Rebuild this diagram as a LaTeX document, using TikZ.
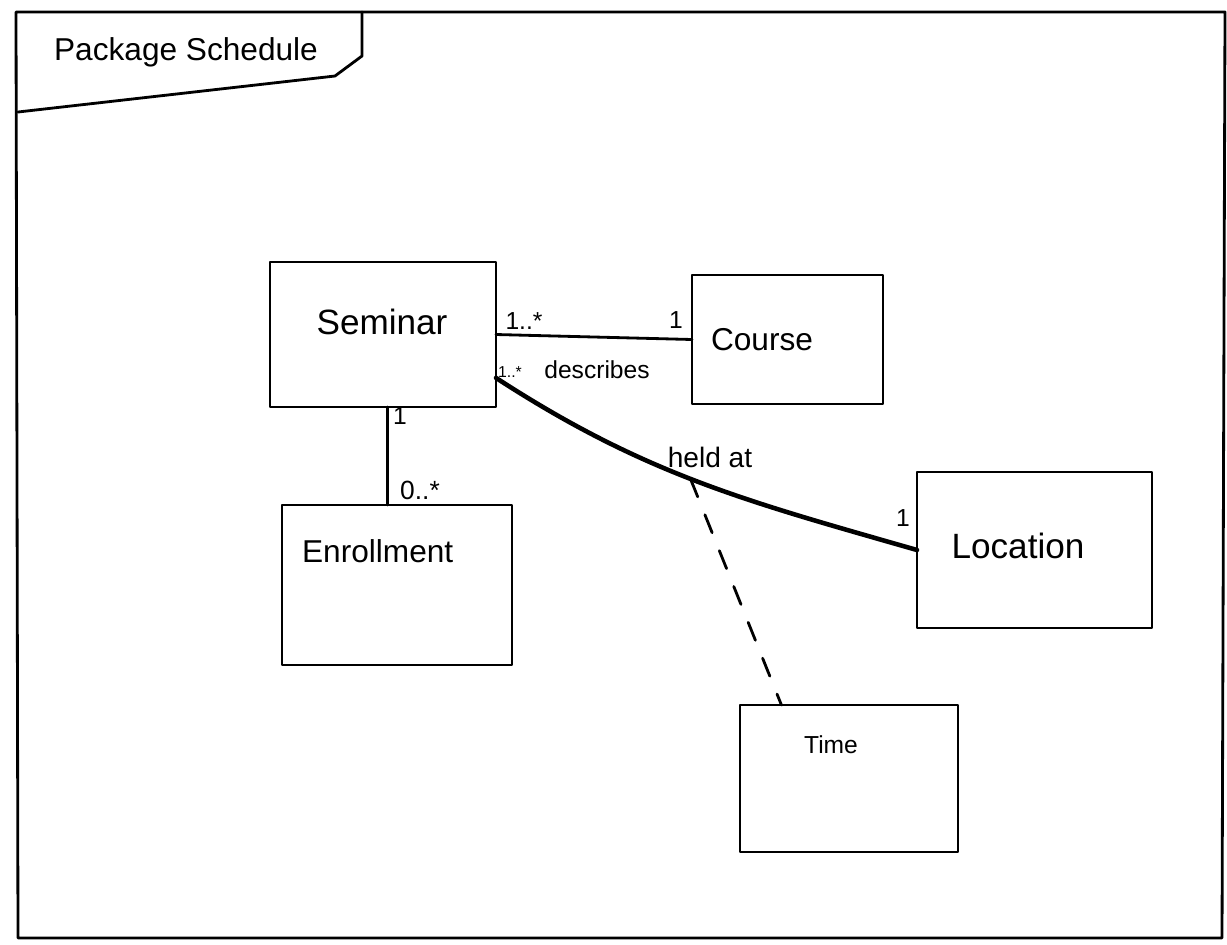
\documentclass[tikz,border=0pt]{standalone}
\usepackage{fontspec}
\setmainfont{Liberation Sans}
\usetikzlibrary{calc, positioning}

\tikzset{
    classbox/.style={draw=black, line width=1.4pt, fill=white, inner sep=0pt, outer sep=0pt},
    handlbl/.style={font=\fontsize{18}{20}\selectfont, inner sep=1pt},
    multlbl/.style={font=\fontsize{14}{16}\selectfont, inner sep=1pt}
}

\begin{document}
\begin{tikzpicture}[x=0.02cm, y=0.02cm, line cap=round, line join=round]
    \useasboundingbox (0,0) rectangle (1227,-944);
    % package frame and its tab
    \draw[line width=1.6pt] (16,-12) -- (1225,-12) -- (1222,-938) -- (18,-938) -- cycle;
    \draw[line width=1.6pt] (18,-112) -- (335,-76) -- (362,-56) -- (362,-12);
    \node[handlbl] (pkgname) at (186,-52) {Package Schedule};

    % classes
    \node[classbox, minimum width=4.52cm, minimum height=2.9cm] (seminar) at (383,-334.5) {};
    \node[classbox, minimum width=3.82cm, minimum height=2.58cm] (course) at (787.5,-339.5) {};
    \node[classbox, minimum width=4.6cm, minimum height=3.2cm] (enrollment) at (397,-585) {};
    \node[classbox, minimum width=4.7cm, minimum height=3.12cm] (location) at (1034.5,-550) {};
    \node[classbox, minimum width=4.36cm, minimum height=2.94cm] (timebox) at (849,-778.5) {};

    \node[handlbl, font=\fontsize{20}{22}\selectfont] (seminarlbl) at (382,-322) {Seminar};
    \node[handlbl] (courselbl) at (762,-340) {Course};
    \node[handlbl, anchor=west] (enrollmentlbl) at (300,-551) {Enrollment};
    \node[handlbl, font=\fontsize{20}{22}\selectfont] (locationlbl) at (1018,-546) {Location};
    \node[handlbl, font=\fontsize{14}{16}\selectfont] (timelbl) at (831,-745) {Time};

    % associations
    \draw[line width=1.6pt] (seminar.east) -- (course.west);
    \node[multlbl] (semcourse) at (524,-321) {1..*};
    \node[multlbl] (coursesem) at (676,-320) {1};
    \node[multlbl, font=\fontsize{9}{10}\selectfont] (semdesc) at (510,-372) {1..*};
    \node[multlbl] (describes) at (597,-370) {describes};

    \coordinate (semdown) at ($(seminar.south west)!0.52!(seminar.south east)$);
    \draw[line width=1.6pt] (semdown) -- (semdown |- enrollment.north);
    \node[multlbl] (semenroll) at (400,-416) {1};
    \node[multlbl, font=\fontsize{15}{17}\selectfont] (enrollsem) at (420,-490) {0..*};

    \draw[line width=2.6pt] (seminar.-21) to[out=-33, in=164]
        coordinate[pos=0.48] (heldpt) (location.west);
    \node[multlbl, font=\fontsize{16}{18}\selectfont] (heldat) at (710,-457) {held at};
    \node[multlbl] (locsem) at (903,-518) {1};

    \draw[line width=1.6pt, dash pattern=on 11pt off 11pt]
        (heldpt) -- ($(timebox.north west)!0.19!(timebox.north east)$);
\end{tikzpicture}
\end{document}
